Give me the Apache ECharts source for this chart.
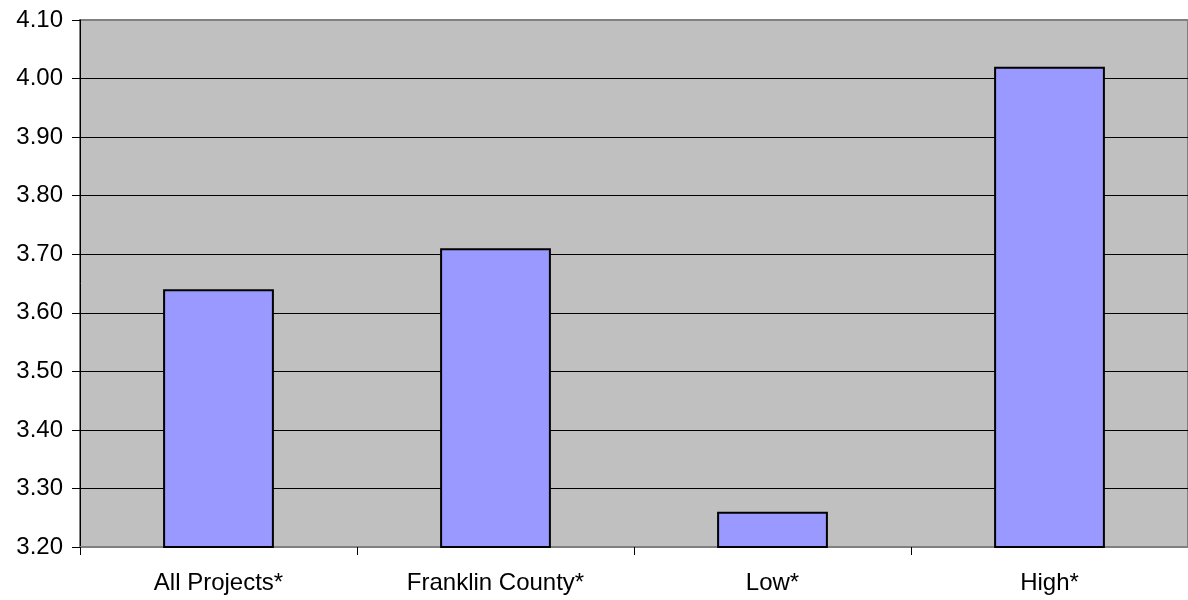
<!DOCTYPE html>
<html>
<head>
<meta charset="utf-8">
<style>
  html, body { margin: 0; padding: 0; background: #ffffff; }
  #chart { width: 1188px; height: 600px; }
</style>
<script src="https://cdn.jsdelivr.net/npm/echarts@6/dist/echarts.min.js"></script>
</head>
<body>
<div id="chart"></div>
<script>
// Categories and average scores
const categories = ['All Projects*', 'Franklin County*', 'Low*', 'High*'];
const scores = [3.64, 3.71, 3.26, 4.02];

const chart = echarts.init(document.getElementById('chart'));
const fontFamily = '"Liberation Sans", Arial, sans-serif';

// Gridlines: the outer ones (3.20 and 4.10) sit on the grey plot border
const gridColors = ['#808080', '#000000', '#000000', '#000000', '#000000',
                    '#000000', '#000000', '#000000', '#000000', '#808080'];

chart.setOption({
  animation: false,
  backgroundColor: '#ffffff',
  grid: {
    left: 80, right: 0, top: 20, bottom: 53,
    show: true,
    backgroundColor: '#c0c0c0',
    borderColor: '#808080',
    borderWidth: 2
  },
  xAxis: {
    type: 'category',
    data: categories,
    axisLine: { show: true, lineStyle: { color: '#808080', width: 2 } },
    axisTick: { show: true, length: 8, lineStyle: { color: '#000000', width: 1 } },
    axisLabel: { color: '#000000', fontFamily: fontFamily, fontSize: 24, margin: 24 }
  },
  yAxis: {
    type: 'value',
    min: 3.2,
    max: 4.1,
    interval: 0.1,
    axisLine: { show: true, onZero: false, lineStyle: { color: '#000000', width: 1 } },
    axisTick: { show: true, length: 8, lineStyle: { color: '#000000', width: 1 } },
    axisLabel: {
      color: '#000000', fontFamily: fontFamily, fontSize: 24, margin: 17,
      formatter: v => v.toFixed(2)
    },
    splitLine: { show: true, lineStyle: { color: gridColors, width: 1 } }
  },
  series: [{
    type: 'bar',
    data: scores,
    barWidth: '40%',
    itemStyle: { color: '#9999ff', borderColor: '#000000', borderWidth: 2 }
  }]
});
</script>
</body>
</html>
